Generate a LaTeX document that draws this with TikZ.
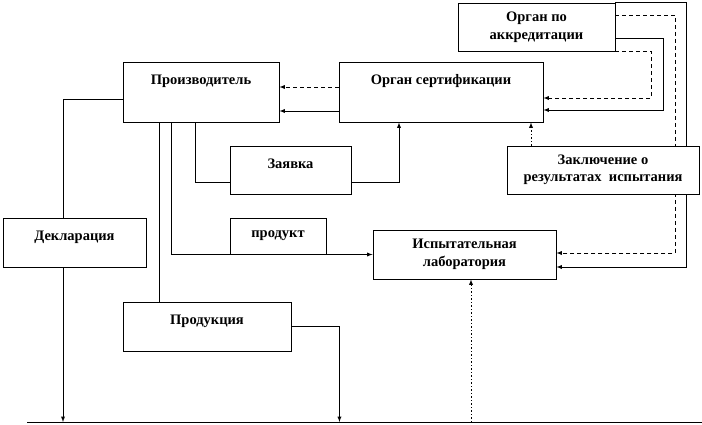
\documentclass[tikz,border=0pt]{standalone}
\usepackage{fontspec}
\setmainfont{Liberation Serif}
\usetikzlibrary{backgrounds}

\tikzset{
	blok/.style={draw, fill=white, line width=0.9pt, font=\bfseries\fontsize{14.5}{17.5}\selectfont, align=center, inner sep=2pt},
	nadpis/.style={text height=10pt, text depth=#1},
	svyaz/.style={line width=0.9pt},
	strih/.style={line width=0.9pt, dash pattern=on 4pt off 3pt},
	tochki/.style={line width=0.9pt, dash pattern=on 1.5pt off 2pt}
}

\begin{document}
\begin{tikzpicture}[x=1pt, y=-1pt, >=latex]
		\useasboundingbox (0,0) rectangle (702,425);
		% boxes
		\node[blok, nadpis=24pt, minimum width=156pt, minimum height=60pt] (proizv) at (201,92) {Производитель};
		\node[blok, nadpis=24pt, minimum width=204pt, minimum height=60pt] (organ) at (441,92) {Орган сертификации};
		\node[blok, minimum width=157pt, minimum height=48pt] (akkr) at (536.5,27) {Орган по\\аккредитации};
		\node[blok, nadpis=14pt, minimum width=121pt, minimum height=48pt] (zayavka) at (290.5,170) {Заявка};
		\node[blok, minimum width=192pt, minimum height=48pt] (zakl) at (603,170) {Заключение о\\результатах\ \ испытания};
		\node[blok, nadpis=14pt, minimum width=143pt, minimum height=49pt] (dekl) at (74.5,242.5) {Декларация};
		\node[blok, minimum width=96pt, minimum height=36pt] (produkt) at (278,236) {продукт};
		\node[blok, minimum width=183pt, minimum height=49pt] (lab) at (464.5,254.5) {Испытательная\\лаборатория};
		\node[blok, nadpis=14pt, minimum width=168pt, minimum height=49pt] (produkciya) at (207,326.5) {Продукция};
		\coordinate (osL) at (27,422);
		\coordinate (osR) at (702,422);
		\begin{scope}[on background layer]
		\draw[svyaz] (osL) -- (osR); % bottom line
		% to the maker
		\draw[strih,->] ([yshift=5pt]organ.west) -- ([yshift=5pt]proizv.east);
		\draw[svyaz,->] ([yshift=-19pt]organ.west) -- ([yshift=-19pt]proizv.east);
		% accreditation
		\draw[strih,->] (akkr.south east) -- ++(36,0) |- ([yshift=-6pt]organ.east);
		\draw[svyaz,->] ([yshift=-11pt]akkr.east) -- ++(48,0) |- ([yshift=-18pt]organ.east);
		\draw[strih,->] ([yshift=12pt]akkr.east) -- ++(60,0) |- ([yshift=1.5pt]lab.east);
		\draw[svyaz,->] (akkr.north east) -- ++(71,0) |- ([yshift=-12.5pt]lab.east);
		% application
		\draw[svyaz] ([xshift=-6pt]proizv.south) |- ([yshift=-12pt]zayavka.west);
		\draw[svyaz,->] ([yshift=-12pt]zayavka.east) -| ([xshift=-42pt]organ.south);
		\draw[tochki,->] ([xshift=-72pt]zakl.north) -- ([xshift=-72pt]zakl.north |- organ.south);
		% declaration and product
		\draw[svyaz,->] ([yshift=-7pt]proizv.west) -| ([xshift=-11.5pt]dekl.south |- osL);
		\draw[svyaz] ([xshift=-42pt]proizv.south) -- ([xshift=-42pt]proizv.south |- produkciya.north);
		\draw[svyaz,->] ([xshift=-30pt]proizv.south) |- (lab.west);
		\draw[svyaz,->] (produkciya.east) -| ([xshift=48pt]produkciya.east |- osL);
		\draw[tochki,->] ([xshift=6.5pt]lab.south |- osL) -- ([xshift=6.5pt]lab.south);
		\end{scope}
	\end{tikzpicture}
\end{document}
